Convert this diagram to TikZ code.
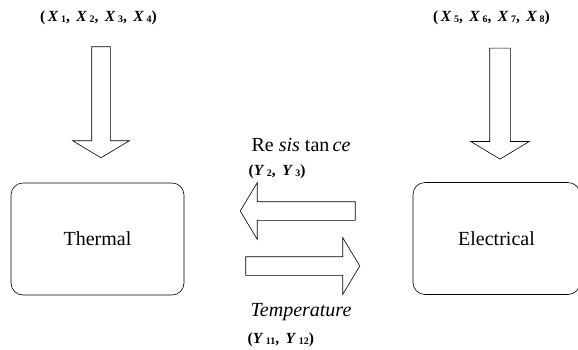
\documentclass[tikz,border=0pt]{standalone}
\usepackage{fontspec}
\setmainfont{Liberation Serif}
\usetikzlibrary{shapes.arrows}
\newcommand{\sv}[2]{\textbf{\textit{#1}}\hspace{2.5pt}\raisebox{-1pt}{\fontsize{10}{10}\selectfont\bfseries #2}}

\begin{document}
\begin{tikzpicture}[x=1pt,y=-1pt,line width=0.6pt,every node/.style={font=\fontsize{20}{22}\selectfont},
  physbox/.style={draw,rounded corners=12pt,minimum width=173pt,minimum height=112pt,inner sep=0pt},
  blockarrow/.style={draw,single arrow,inner sep=9pt,single arrow head extend=19pt,single arrow tip angle=118,minimum height=#1},
  varlist/.style={font=\fontsize{15.5}{17}\selectfont\bfseries}]
\useasboundingbox (0,0) rectangle (578,349);
% the two domains
\node[physbox] (thermal) at (97.5,239) {Thermal}; \node[physbox,minimum width=167pt] (electrical) at (496.5,238.5) {Electrical};
% inputs from above
\node[varlist] (xthermal) at (98.5,18) {(\,\sv{X}{1},\, \sv{X}{2},\, \sv{X}{3},\, \sv{X}{4})}; \node[varlist] (xelectrical) at (491.5,18) {(\,\sv{X}{5},\, \sv{X}{6},\, \sv{X}{7},\, \sv{X}{8})};
\node[blockarrow=111pt,rotate=-90] (thermalin) at (101,99.5) {}; \node[blockarrow=111pt,rotate=-90,inner sep=10pt] (electricalin) at (500,100.5) {};
% coupling between the domains
\node[blockarrow=115pt,rotate=180] (resistance) at (300.5,211) {}; \node[blockarrow=114pt] (temperature) at (300,266) {};
\node[anchor=west] (reslabel) at (248,145) {Re \textit{sis} tan\,\textit{ce}}; \node[varlist,anchor=west] (resvars) at (245,172) {(\sv{Y}{2},\, \sv{Y}{3})};
\node[anchor=west] (templabel) at (247,312) {\textit{Temperature}}; \node[varlist,anchor=west] (tempvars) at (244,340) {(\sv{Y}{11},\, \sv{Y}{12})};
\end{tikzpicture}
\end{document}
